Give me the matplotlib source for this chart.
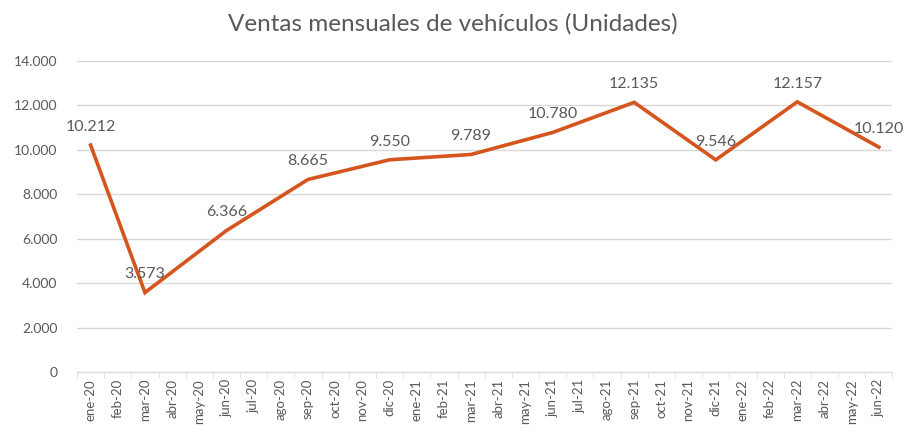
import numpy as np
import matplotlib
matplotlib.use('Agg')
import matplotlib.pyplot as plt
from matplotlib.ticker import FuncFormatter

plt.rcParams['font.family'] = ['Lato', 'DejaVu Sans']

# ventas mensuales de vehículos
meses = ['ene-20', 'feb-20', 'mar-20', 'abr-20', 'may-20', 'jun-20', 'jul-20', 'ago-20',
         'sep-20', 'oct-20', 'nov-20', 'dic-20', 'ene-21', 'feb-21', 'mar-21', 'abr-21',
         'may-21', 'jun-21', 'jul-21', 'ago-21', 'sep-21', 'oct-21', 'nov-21', 'dic-21',
         'ene-22', 'feb-22', 'mar-22', 'abr-22', 'may-22', 'jun-22']
meses_dato = ['ene-20', 'mar-20', 'jun-20', 'sep-20', 'dic-20', 'mar-21', 'jun-21',
              'sep-21', 'dic-21', 'mar-22', 'jun-22']
ventas = [10212, 3573, 6366, 8665, 9550, 9789, 10780, 12135, 9546, 12157, 10120]

color_linea = '#d4551d'
gris = '#595959'

def miles(v, pos=None):
    return f'{int(v):,}'.replace(',', '.')

x = [meses.index(m) for m in meses_dato]

fig = plt.figure(figsize=(9.06, 4.32), dpi=100)
ax = fig.add_axes([0.085, 0.139, 0.9, 0.72])

ax.plot(x, ventas, color=color_linea, linewidth=2.6, solid_joinstyle='miter', zorder=3)

for xi, v in zip(x, ventas):
    ax.annotate(miles(v), (xi, v), xytext=(0, 8), textcoords='offset points',
                ha='center', va='bottom', fontsize=11.5, color=gris)

ax.set_xlim(-0.5, len(meses) - 0.5)
ax.set_ylim(0, 14000)
ax.set_yticks(np.arange(0, 14001, 2000))
ax.yaxis.set_major_formatter(FuncFormatter(miles))
ax.set_xticks(range(len(meses)))
ax.set_xticklabels(meses, rotation=90, fontsize=9.5, color=gris)
ax.set_xticks(np.arange(-0.5, len(meses), 1), minor=True)
ax.tick_params(axis='x', which='major', length=0, pad=5)
ax.tick_params(axis='x', which='minor', length=4, color='#d9d9d9')
ax.tick_params(axis='y', length=0, labelsize=10, labelcolor=gris, pad=14)

ax.grid(axis='y', color='#d9d9d9', linewidth=1)
ax.set_axisbelow(True)
for s in ['top', 'right', 'left']:
    ax.spines[s].set_visible(False)
ax.spines['bottom'].set_color('#d9d9d9')

fig.suptitle('Ventas mensuales de vehículos (Unidades)', fontsize=17.5, color=gris, y=0.97)

fig.savefig('out.png', dpi=100)
